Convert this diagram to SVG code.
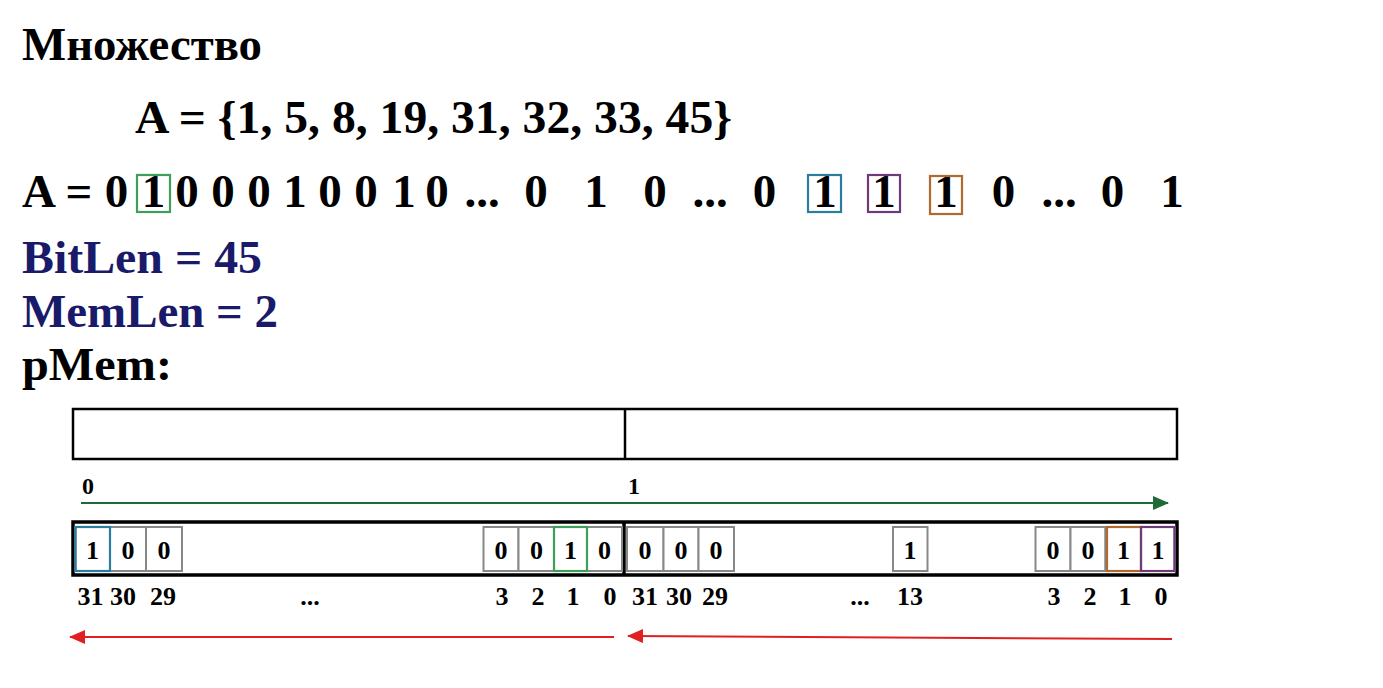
<svg xmlns="http://www.w3.org/2000/svg" width="1383" height="688" viewBox="0 0 1383 688">
<defs>
<style>
.t{font-family:"Liberation Serif","Times New Roman",serif;font-weight:bold;fill:#000}
.big{font-size:47px}
.navy{fill:#1a1a6a}
.mid{text-anchor:middle}
.cellt{font-size:26px;text-anchor:middle}
.lab{font-size:26px;text-anchor:middle}
.top{font-size:24px;text-anchor:middle}
.cell{fill:#fff;stroke:#888;stroke-width:2}
.hl{fill:none;stroke-width:2.2}
</style>
<marker id="ag" markerWidth="16" markerHeight="14" refX="15" refY="7" orient="auto" markerUnits="userSpaceOnUse"><path d="M0,0 L16,7 L0,14 Z" fill="#1e6b35"/></marker>
<marker id="ar" markerWidth="16" markerHeight="14" refX="15" refY="7" orient="auto" markerUnits="userSpaceOnUse"><path d="M0,0 L16,7 L0,14 Z" fill="#e02020"/></marker>
</defs>
<rect width="1383" height="688" fill="#fff"/>

<g id="title">
<text class="t big" x="22" y="60" textLength="240" lengthAdjust="spacingAndGlyphs">Множество</text>
<text class="t big" x="135" y="133" textLength="597" lengthAdjust="spacingAndGlyphs">A = {1, 5, 8, 19, 31, 32, 33, 45}</text>
</g>

<g id="bitstring" class="t big">
<text class="mid" x="39" y="207">A</text>
<text class="mid" x="79" y="207">=</text>
<text class="mid" x="116.5" y="207">0</text>
<text class="mid" x="153.5" y="207">1</text>
<text class="mid" x="187" y="207">0</text>
<text class="mid" x="223" y="207">0</text>
<text class="mid" x="259" y="207">0</text>
<text class="mid" x="295" y="207">1</text>
<text class="mid" x="330" y="207">0</text>
<text class="mid" x="366" y="207">0</text>
<text class="mid" x="404" y="207">1</text>
<text class="mid" x="437" y="207">0</text>
<text class="mid" x="482" y="207">...</text>
<text class="mid" x="536" y="207">0</text>
<text class="mid" x="596" y="207">1</text>
<text class="mid" x="655" y="207">0</text>
<text class="mid" x="710" y="207">...</text>
<text class="mid" x="764.5" y="207">0</text>
<text class="mid" x="825" y="207">1</text>
<text class="mid" x="884" y="207">1</text>
<text class="mid" x="946" y="207">1</text>
<text class="mid" x="1003.5" y="207">0</text>
<text class="mid" x="1059" y="207">...</text>
<text class="mid" x="1112.5" y="207">0</text>
<text class="mid" x="1172" y="207">1</text>
</g>
<g id="bitstring-highlights">
<rect class="hl" x="137" y="175" width="33" height="37" stroke="#3f9f5a"/>
<rect class="hl" x="808" y="175" width="33" height="37" stroke="#2a7d9e"/>
<rect class="hl" x="868" y="175" width="32" height="37" stroke="#6e3a7c"/>
<rect class="hl" x="930" y="176" width="32" height="38" stroke="#b0692e"/>
</g>

<g id="vars">
<text class="t big navy" x="22" y="273" textLength="240" lengthAdjust="spacingAndGlyphs">BitLen = 45</text>
<text class="t big navy" x="22" y="327" textLength="256" lengthAdjust="spacingAndGlyphs">MemLen = 2</text>
<text class="t big" x="22" y="380" textLength="150" lengthAdjust="spacingAndGlyphs">pMem:</text>
</g>

<g id="pmem-words">
<rect x="73" y="409" width="1104" height="50" fill="#fff" stroke="#000" stroke-width="2.5"/>
<line x1="625" y1="409" x2="625" y2="459" stroke="#000" stroke-width="2.5"/>
<text class="t top" x="88" y="494">0</text>
<text class="t top" x="634" y="494">1</text>
</g>

<g id="bits">
<rect x="73" y="522" width="1104" height="53" fill="#fff" stroke="#000" stroke-width="3.5"/>
<line x1="624" y1="522" x2="624" y2="575" stroke="#000" stroke-width="3.5"/>
<g id="word0-cells">
<rect class="cell" x="75.5" y="527" width="34.5" height="44"/>
<rect class="cell" x="110" y="527" width="36" height="44"/>
<rect class="cell" x="146" y="527" width="36" height="44"/>
<rect class="cell" x="483.5" y="527" width="35" height="44"/>
<rect class="cell" x="518.5" y="527" width="35.5" height="44"/>
<rect class="cell" x="554" y="527" width="33" height="44"/>
<rect class="cell" x="587" y="527" width="35" height="44"/>
<rect class="hl" x="75.5" y="527" width="34.5" height="44" stroke="#2a7d9e"/>
<rect class="hl" x="554" y="527" width="33" height="44" stroke="#3f9f5a"/>
</g>
<g id="word1-cells">
<rect class="cell" x="627" y="527" width="36.5" height="44"/>
<rect class="cell" x="663.5" y="527" width="35" height="44"/>
<rect class="cell" x="698.5" y="527" width="35.5" height="44"/>
<rect class="cell" x="893" y="527" width="34.5" height="44"/>
<rect class="cell" x="1035.5" y="527" width="35" height="44"/>
<rect class="cell" x="1070.5" y="527" width="35" height="44"/>
<rect class="cell" x="1105.5" y="527" width="35.5" height="44"/>
<rect class="cell" x="1141" y="527" width="33.5" height="44"/>
<rect class="hl" x="1107" y="527" width="34" height="44" stroke="#b0692e"/>
<rect class="hl" x="1141" y="527" width="33.5" height="44" stroke="#6e3a7c"/>
</g>
<g id="cell-values" class="t cellt">
<text x="92.5" y="559">1</text>
<text x="128" y="559">0</text>
<text x="164" y="559">0</text>
<text x="501" y="559">0</text>
<text x="536.5" y="559">0</text>
<text x="570.5" y="559">1</text>
<text x="604.5" y="559">0</text>
<text x="645" y="559">0</text>
<text x="681" y="559">0</text>
<text x="716" y="559">0</text>
<text x="910" y="559">1</text>
<text x="1053" y="559">0</text>
<text x="1088" y="559">0</text>
<text x="1123.5" y="559">1</text>
<text x="1158" y="559">1</text>
</g>
<g id="bit-indices" class="t lab">
<text x="90.5" y="605">31</text>
<text x="123" y="605">30</text>
<text x="163" y="605">29</text>
<text x="310" y="605">...</text>
<text x="502" y="605">3</text>
<text x="538" y="605">2</text>
<text x="573" y="605">1</text>
<text x="610" y="605">0</text>
<text x="645" y="605">31</text>
<text x="679" y="605">30</text>
<text x="715" y="605">29</text>
<text x="860" y="605">...</text>
<text x="910" y="605">13</text>
<text x="1054" y="605">3</text>
<text x="1090" y="605">2</text>
<text x="1125" y="605">1</text>
<text x="1161" y="605">0</text>
</g>
</g>

<g id="connectors">
<line x1="81" y1="503" x2="1168" y2="503" stroke="#1e6b35" stroke-width="2" marker-end="url(#ag)"/>
<line x1="614" y1="637" x2="70" y2="637" stroke="#e02020" stroke-width="2" marker-end="url(#ar)"/>
<line x1="1172" y1="639" x2="628" y2="636" stroke="#e02020" stroke-width="2" marker-end="url(#ar)"/>
</g>
</svg>
